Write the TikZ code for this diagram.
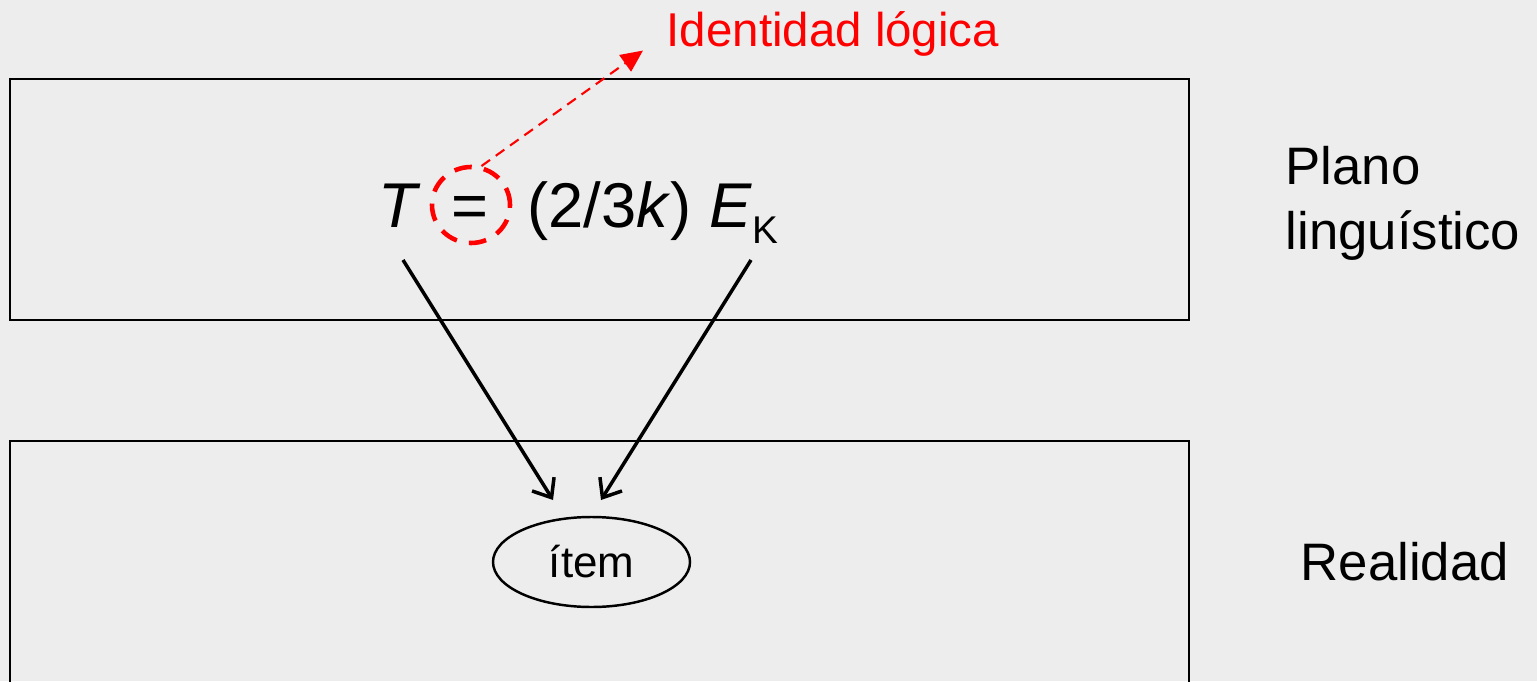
\documentclass[tikz,border=0pt]{standalone}
\usepackage{fontspec}
\setmainfont{Liberation Sans}
\usetikzlibrary{arrows.meta,shapes.geometric}

\tikzset{
  plane/.style={draw=black, line width=0.5pt},
  lbl/.style={inner sep=0pt, font=\fontsize{15}{18.5}\selectfont},
  link/.style={line width=1pt, -{Straight Barb[length=1.6mm,width=2.6mm,line width=1pt]}},
  redlink/.style={red, line width=0.6pt, dash pattern=on 3pt off 2pt,
    -{Triangle[length=2.2mm,width=2mm]}},
  ring/.style={draw=red, ellipse, line width=1.3pt, dash pattern=on 5pt off 3.5pt,
    minimum width=0.78cm, minimum height=0.76cm, inner sep=0pt},
}

\begin{document}
\begin{tikzpicture}
    \useasboundingbox (0,0) rectangle (15.37,6.81);
    \clip (0,0) rectangle (15.37,6.81);
    \fill[gray!14] (0,0) rectangle (15.37,6.81);

    % ---- the two planes ----
    \draw[plane] (0.10,3.61) rectangle (11.89,6.02);
    \draw[plane] (0.10,-0.20) rectangle (11.89,2.40);

    % ---- side labels ----
    \node[lbl, anchor=base west, align=left] (plano) at (12.85,4.31)
        {Plano\\linguístico};
    \node[lbl, anchor=base west] (realidad) at (13.00,1.01) {Realidad};

    % ---- formula ----
    \node[inner sep=0pt, anchor=base west, font=\fontsize{18}{22}\selectfont]
        (formula) at (3.78,4.53)
        {\textit{T}\hspace{8.6pt}=\hspace{11.2pt}(2/3\textit{k}) \textit{E}\raisebox{-4.3pt}{\fontsize{11}{13}\selectfont K}};
    \node[ring] (eq) at (4.71,4.76) {};

    % ---- logical identity ----
    \node[inner sep=0pt, anchor=base west, text=red,
        font=\fontsize{13.5}{16}\selectfont] (ident) at (6.66,6.34)
        {Identidad lógica};
    \draw[redlink] (eq.75) -- ([xshift=-0.23cm,yshift=0.07cm]ident.south west);

    % ---- item in reality ----
    \node[draw, ellipse, line width=0.7pt, minimum width=1.97cm,
        minimum height=0.90cm, inner sep=0pt,
        font=\fontsize{12.5}{15}\selectfont] (item) at (5.915,1.19) {ítem};

    % ---- reference arrows ----
    \coordinate (tfoot) at (4.03,4.21);
    \coordinate (efoot) at (7.51,4.21);
    \coordinate (tin) at (5.53,1.81);
    \coordinate (ein) at (6.01,1.81);
    \draw[link] (tfoot) -- (tin);
    \draw[link] (efoot) -- (ein);
\end{tikzpicture}
\end{document}
